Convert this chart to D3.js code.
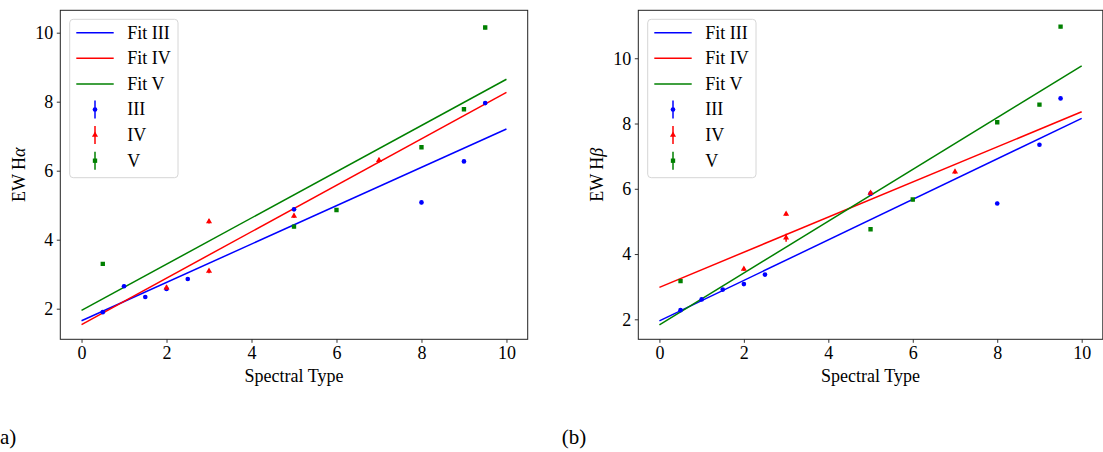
<!DOCTYPE html>
<html>
<head>
<meta charset="utf-8">
<script src="https://cdn.jsdelivr.net/npm/d3@7"></script>
<style>
  html, body { margin: 0; padding: 0; background: #fff; overflow: hidden; }
  text { font-family: "Liberation Serif", "DejaVu Serif", serif; fill: #000; }
</style>
</head>
<body>
<script>
// ---------- data ----------
const xTicks = [0, 2, 4, 6, 8, 10];
const yTicks = [2, 4, 6, 8, 10];
const fitX = [0, 10];
const seriesNames = ["III", "IV", "V"];
const fitNames = ["Fit III", "Fit IV", "Fit V"];

// Panel (a): EW H-alpha
const haIII_x = [0.5, 1, 1.5, 2, 2.5, 5, 8, 9, 9.5];
const haIII_y = [1.90, 2.65, 2.34, 2.57, 2.86, 4.88, 5.08, 6.27, 7.96];
const haIII_err = [0.05, 0.05, 0.05, 0.05, 0.05, 0.05, 0.05, 0.05, 0.05];
const haIV_x = [2, 3, 3, 5, 7];
const haIV_y = [2.61, 4.53, 3.09, 4.69, 6.30];
const haIV_err = [0.06, 0.06, 0.06, 0.06, 0.06];
const haV_x = [0.5, 5, 6, 8, 9, 9.5];
const haV_y = [3.30, 4.38, 4.86, 6.68, 7.78, 10.15];
const haV_err = [0.05, 0.05, 0.05, 0.05, 0.05, 0.05];
const haFitIII = [1.65, 7.21];
const haFitIV = [1.54, 8.27];
const haFitV = [1.95, 8.65];
const haYLim = [1.113, 10.649];

// Panel (b): EW H-beta
const hbIII_x = [0.5, 1, 1.5, 2, 2.5, 5, 8, 9, 9.5];
const hbIII_y = [2.28, 2.61, 2.91, 3.08, 3.37, 5.85, 5.55, 7.35, 8.77];
const hbIII_err = [0.05, 0.05, 0.05, 0.05, 0.05, 0.05, 0.05, 0.05, 0.05];
const hbIV_x = [2, 3, 3, 5, 7];
const hbIV_y = [3.54, 5.23, 4.50, 5.87, 6.52];
const hbIV_err = [0.06, 0.06, 0.12, 0.06, 0.06];
const hbV_x = [0.5, 5, 6, 8, 9, 9.5];
const hbV_y = [3.17, 4.76, 5.67, 8.04, 8.58, 10.97];
const hbV_err = [0.05, 0.05, 0.05, 0.05, 0.05, 0.05];
const hbFitIII = [1.95, 8.16];
const hbFitIV = [2.98, 8.36];
const hbFitV = [1.83, 9.77];
const hbYLim = [1.387, 11.47];

const xLim = [-0.5, 10.5];
const colors = ["#0000ff", "#ff0000", "#008000"];
const symbols = [d3.symbolCircle, d3.symbolTriangle, d3.symbolSquare];
const symSizes = [17, 16, 19];

// ---------- drawing ----------
const svg = d3.select("body").append("svg")
  .attr("width", 1103).attr("height", 452);

function drawPanel(cfg) {
  const g = svg.append("g").attr("transform", `translate(${cfg.left},${cfg.top})`);
  const x = d3.scaleLinear().domain(xLim).range([0, cfg.width]);
  const y = d3.scaleLinear().domain(cfg.yLim).range([cfg.height, 0]);

  const clipId = "clip" + cfg.id;
  g.append("clipPath").attr("id", clipId).append("rect")
    .attr("width", cfg.width).attr("height", cfg.height);
  const plot = g.append("g").attr("clip-path", `url(#${clipId})`);

  // fit lines
  cfg.fits.forEach((fy, i) => {
    const pts = fitX.map((xv, k) => [xv, fy[k]]);
    plot.append("path")
      .attr("d", d3.line().x(d => x(d[0])).y(d => y(d[1]))(pts))
      .attr("fill", "none").attr("stroke", colors[i]).attr("stroke-width", 1.5);
  });

  // points with error bars
  cfg.series.forEach((s, i) => {
    const data = s.x.map((xv, k) => ({x: xv, y: s.y[k], e: s.e[k]}));
    plot.selectAll(null).data(data).enter().append("line")
      .attr("x1", d => x(d.x)).attr("x2", d => x(d.x))
      .attr("y1", d => y(d.y - d.e)).attr("y2", d => y(d.y + d.e))
      .attr("stroke", colors[i]).attr("stroke-width", 1.5);
    plot.selectAll(null).data(data).enter().append("path")
      .attr("d", d3.symbol().type(symbols[i]).size(symSizes[i]))
      .attr("transform", d => `translate(${x(d.x)},${y(d.y)})`)
      .attr("fill", colors[i]);
  });

  // axes
  const xAxis = d3.axisBottom(x).tickValues(xTicks).tickSize(3.5).tickPadding(3.5).tickFormat(d3.format("d"));
  const yAxis = d3.axisLeft(y).tickValues(yTicks).tickSize(3.5).tickPadding(3.5).tickFormat(d3.format("d"));
  const gx = g.append("g").attr("transform", `translate(0,${cfg.height})`).call(xAxis);
  const gy = g.append("g").call(yAxis);
  [gx, gy].forEach(a => {
    a.select(".domain").remove();
    a.selectAll(".tick line").attr("stroke", "#000").attr("stroke-width", 0.8);
    a.selectAll(".tick text").attr("font-size", 18).attr("font-family", "Liberation Serif").attr("fill", "#000");
  });
  gy.selectAll(".tick text").attr("dy", "0.33em");
  gx.selectAll(".tick text").attr("dy", "0.72em");

  // frame
  g.append("rect").attr("x", 0).attr("y", 0).attr("width", cfg.width).attr("height", cfg.height)
    .attr("fill", "none").attr("stroke", "#222").attr("stroke-width", 1);

  // axis labels
  g.append("text").attr("x", cfg.width / 2).attr("y", cfg.height + 43)
    .attr("text-anchor", "middle").attr("font-size", 18).text("Spectral Type");
  const yl = g.append("text")
    .attr("transform", `translate(-35,${cfg.height / 2}) rotate(-90)`)
    .attr("text-anchor", "middle").attr("font-size", 18);
  yl.append("tspan").text("EW H");
  yl.append("tspan").attr("font-style", "italic").text(cfg.greek);

  // legend
  const lg = g.append("g").attr("transform", "translate(9.4,9)");
  lg.append("rect").attr("x", 0).attr("y", 0).attr("width", 108.3).attr("height", 158.4)
    .attr("rx", 3.5).attr("fill", "#fff").attr("fill-opacity", 0.8)
    .attr("stroke", "#d6d6d6").attr("stroke-width", 1);
  const rowY = k => 13.4 + k * 25.6;
  fitNames.forEach((n, i) => {
    lg.append("line").attr("x1", 6.6).attr("x2", 44).attr("y1", rowY(i)).attr("y2", rowY(i))
      .attr("stroke", colors[i]).attr("stroke-width", 1.5);
    lg.append("text").attr("x", 57.6).attr("y", rowY(i) + 6).attr("font-size", 18).text(n);
  });
  seriesNames.forEach((n, i) => {
    const cy = rowY(i + 3);
    lg.append("line").attr("x1", 25.3).attr("x2", 25.3).attr("y1", cy - 9).attr("y2", cy + 9)
      .attr("stroke", colors[i]).attr("stroke-width", 1.5);
    lg.append("path").attr("d", d3.symbol().type(symbols[i]).size(symSizes[i]))
      .attr("transform", `translate(25.3,${cy})`).attr("fill", colors[i]);
    lg.append("text").attr("x", 57.6).attr("y", cy + 6).attr("font-size", 18).text(n);
  });

  // panel tag
  svg.append("text").attr("x", cfg.tagX).attr("y", 444).attr("font-size", 21).text(cfg.tag);
}

drawPanel({
  id: "a", left: 60.3, top: 10.3, width: 467.4, height: 329, yLim: haYLim, greek: "α",
  fits: [haFitIII, haFitIV, haFitV],
  series: [{x: haIII_x, y: haIII_y, e: haIII_err}, {x: haIV_x, y: haIV_y, e: haIV_err}, {x: haV_x, y: haV_y, e: haV_err}],
  tag: "(a)", tagX: -7
});
drawPanel({
  id: "b", left: 638.3, top: 10.3, width: 464.5, height: 329, yLim: hbYLim, greek: "β",
  fits: [hbFitIII, hbFitIV, hbFitV],
  series: [{x: hbIII_x, y: hbIII_y, e: hbIII_err}, {x: hbIV_x, y: hbIV_y, e: hbIV_err}, {x: hbV_x, y: hbV_y, e: hbV_err}],
  tag: "(b)", tagX: 561.7
});
</script>
</body>
</html>
